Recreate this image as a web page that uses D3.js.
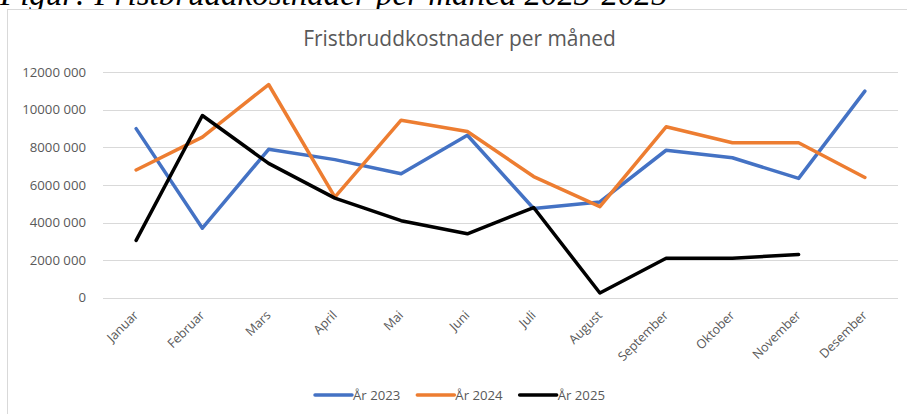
<!DOCTYPE html>
<html>
<head>
<meta charset="utf-8">
<script src="https://cdn.jsdelivr.net/npm/d3@7"></script>
<style>
    html, body { margin: 0; padding: 0; background: #fff; overflow: hidden; }
    svg { display: block; }
</style>
</head>
<body>
<script>
// data
var months = ['Januar', 'Februar', 'Mars', 'April', 'Mai', 'Juni', 'Juli', 'August', 'September', 'Oktober', 'November', 'Desember']
var aar2023 = [9000000, 3700000, 7900000, 7350000, 6600000, 8650000, 4750000, 5100000, 7850000, 7450000, 6350000, 11000000]
var aar2024 = [6800000, 8550000, 11350000, 5350000, 9450000, 8850000, 6450000, 4850000, 9100000, 8250000, 8250000, 6400000]
var aar2025 = [3050000, 9700000, 7150000, 5300000, 4100000, 3400000, 4800000, 250000, 2100000, 2100000, 2300000, null]
var yTicks = [0, 2000000, 4000000, 6000000, 8000000, 10000000, 12000000]
var yTickLabels = ['0', '2000 000', '4000 000', '6000 000', '8000 000', '10000 000', '12000 000']
var seriesNames = ['År 2023', 'År 2024', 'År 2025']
var seriesColors = ['#4472C4', '#ED7D31', '#000000']

var W = 907, H = 414
var font = "'Open Sans', 'Noto Sans', sans-serif"

var svg = d3.select('body').append('svg')
    .attr('width', W)
    .attr('height', H)

// fit a text element to a target width by changing its font size
var fitWidth = function (text, target) {
    var fs = parseFloat(text.attr('font-size'))
    var w = text.node().getComputedTextLength()
    text.attr('font-size', fs * target / w)
}

// caption above the chart, cut by the top edge like in the source
var caption = svg.append('text')
    .text('Figur: Fristbruddkostnader per måned 2023-2025')
    .attr('x', 0)
    .attr('y', 4.5)
    .attr('font-family', "'Liberation Serif', 'DejaVu Serif', serif")
    .attr('font-style', 'italic')
    .attr('font-size', 28)
    .attr('fill', '#000')
fitWidth(caption, 668)

// chart frame
svg.append('rect')
    .attr('x', 7.5)
    .attr('y', 9.5)
    .attr('width', 1000)
    .attr('height', 1000)
    .attr('fill', '#fff')
    .attr('stroke', '#d9d9d9')

var title = svg.append('text')
    .text('Fristbruddkostnader per måned')
    .attr('x', 459.5)
    .attr('y', 45.5)
    .attr('text-anchor', 'middle')
    .attr('font-family', font)
    .attr('font-size', 20)
    .attr('fill', '#595959')
fitWidth(title, 313)

var x = d3.scaleBand().domain(months).range([103, 898])
var y = d3.scaleLinear().domain([0, 12000000]).range([297.7, 72.3])
var cx = function (m) { return x(m) + x.bandwidth() / 2 }

// gridlines
svg.append('g')
    .selectAll('line')
    .data(yTicks)
    .enter().append('line')
    .attr('x1', 103)
    .attr('x2', 898)
    .attr('y1', function (d) { return Math.round(y(d)) + 0.5 })
    .attr('y2', function (d) { return Math.round(y(d)) + 0.5 })
    .attr('stroke', '#d9d9d9')
    .attr('stroke-width', 1)

// y labels
svg.append('g')
    .selectAll('text')
    .data(yTicks)
    .enter().append('text')
    .text(function (d, i) { return yTickLabels[i] })
    .attr('x', 86)
    .attr('y', function (d) { return y(d) + 4.5 })
    .attr('text-anchor', 'end')
    .attr('font-family', font)
    .attr('font-size', 13.2)
    .attr('fill', '#595959')

// x labels, turned 45 degrees
svg.append('g')
    .selectAll('text')
    .data(months)
    .enter().append('text')
    .text(function (d) { return d })
    .attr('text-anchor', 'end')
    .attr('transform', function (d) { return 'translate(' + (cx(d) + 3) + ',316) rotate(-45)' })
    .attr('font-family', font)
    .attr('font-size', 12.6)
    .attr('fill', '#595959')

// lines
var line = d3.line()
    .defined(function (d) { return d != null })
    .x(function (d, i) { return cx(months[i]) })
    .y(function (d) { return y(d) })

var allSeries = [aar2023, aar2024, aar2025]
svg.append('g')
    .selectAll('path')
    .data(allSeries)
    .enter().append('path')
    .attr('d', line)
    .attr('fill', 'none')
    .attr('stroke', function (d, i) { return seriesColors[i] })
    .attr('stroke-width', 3.5)
    .attr('stroke-linejoin', 'round')
    .attr('stroke-linecap', 'round')

// legend
var lx = 315
var legend = svg.append('g')
seriesNames.forEach(function (name, i) {
    legend.append('line')
        .attr('x1', lx)
        .attr('x2', lx + 37)
        .attr('y1', 395)
        .attr('y2', 395)
        .attr('stroke', seriesColors[i])
        .attr('stroke-width', 3.5)
        .attr('stroke-linecap', 'round')
    var t = legend.append('text')
        .text(name)
        .attr('x', lx + 38)
        .attr('y', 400)
        .attr('font-family', font)
        .attr('font-size', 13.2)
        .attr('fill', '#595959')
    lx += 38 + t.node().getComputedTextLength() + 17
})
</script>
</body>
</html>
